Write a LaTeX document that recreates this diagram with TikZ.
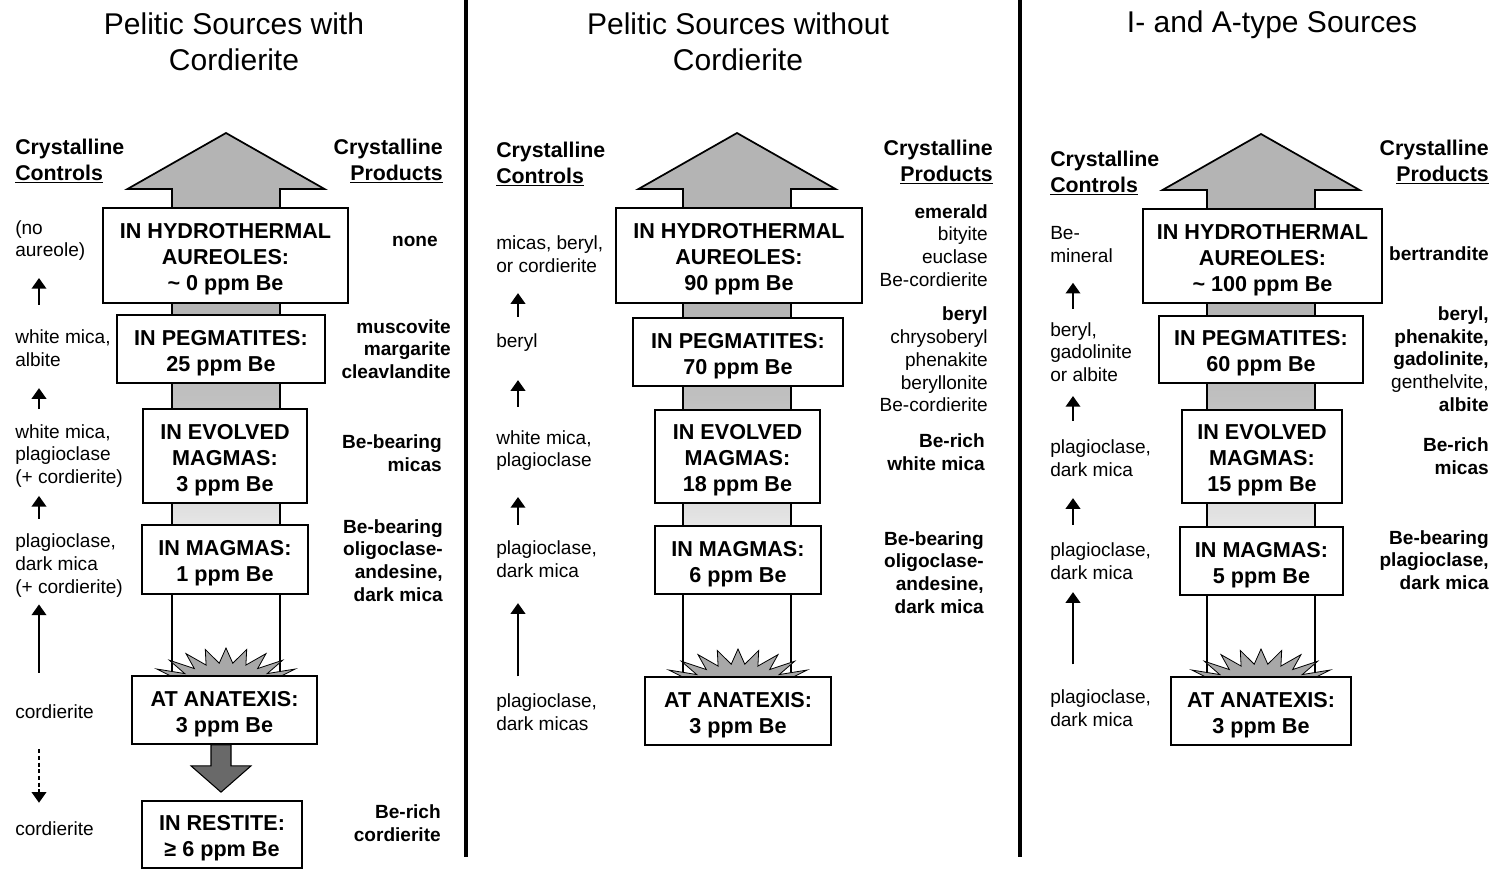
\documentclass[tikz,border=0pt]{standalone}
\usepackage{fontspec}
\setmainfont{Liberation Sans}
\usetikzlibrary{arrows.meta,calc}

\definecolor{arrowgray}{RGB}{180,180,180}
\definecolor{midgray}{RGB}{192,192,192}
\definecolor{fadegray}{RGB}{226,226,226}
\definecolor{burstgray}{RGB}{168,168,168}
\definecolor{restgray}{RGB}{105,105,105}

% shaft: gray at the head, fading to white towards anatexis
\pgfdeclareverticalshading{shaftfade}{100bp}{color(0bp)=(white); color(36bp)=(white); color(42bp)=(fadegray); color(52bp)=(midgray); color(58bp)=(arrowgray); color(100bp)=(arrowgray)}

\newcommand{\titlefont}{\fontsize{22.5pt}{27pt}\selectfont}
\newcommand{\headfont}{\fontsize{16pt}{19.5pt}\selectfont\bfseries}
\newcommand{\stagefont}{\fontsize{16.2pt}{19.5pt}\selectfont\bfseries}
\newcommand{\notefont}{\fontsize{14.3pt}{17.1pt}\selectfont}
\newcommand{\stagetop}{\rule{0pt}{17pt}}% pushes the box text a little down

\tikzset{
  paneltitle/.style={align=center, font=\titlefont, inner sep=0pt},
  headl/.style={anchor=west, align=left, font=\headfont, inner sep=0pt},
  headr/.style={anchor=east, align=right, font=\headfont, inner sep=0pt},
  stage/.style 2 args={draw, line width=1.3pt, fill=white, align=center, font=\stagefont,
    inner sep=0pt, minimum width=#1*0.75pt, minimum height=#2*0.75pt},
  ctrl/.style={anchor=west, align=left, font=\notefont, inner sep=0pt},
  prod/.style={anchor=east, align=right, font=\notefont\bfseries, inner sep=0pt},
  prodlight/.style={prod, font=\notefont},
  uparr/.style={line width=1.2pt, -{Triangle[width=11pt,length=8pt]}},
  downarr/.style={uparr, dash pattern=on 3pt off 2pt},
  restarrow/.style={fill=restgray, draw, line width=0.8pt},
  divider/.style={line width=3pt},
  pics/risearrow/.style={code={
    \shadedraw[shading=shaftfade, line width=1.3pt] (-54,577) -- (-54,56) -- (-98.5,56) -- (0,0)
      -- (98.5,56) -- (54,56) -- (54,577) -- cycle;
  }},
  pics/burst/.style={code={
    \filldraw[fill=burstgray, line width=0.6pt] (0:80 and 42)
      \foreach \a in {7.5,22.5,...,352.5} { -- (\a:52 and 27) -- ({\a+7.5}:80 and 42) } -- cycle;
  }},
}

\begin{document}
\begin{tikzpicture}[x=0.75pt,y=0.75pt,yscale=-1,xscale=1]
\useasboundingbox (0,0) rectangle (1500,870);

% panel dividers
\draw[divider] (466,0) -- (466,857);
\draw[divider] (1020,0) -- (1020,857);

% Titles
\node[paneltitle] (t1) at (234,42) {Pelitic Sources with\\Cordierite};
\node[paneltitle] (t2) at (738,42) {Pelitic Sources without\\Cordierite};
\node[paneltitle] (t3) at (1272,25) {I- and A-type Sources};

% big arrows and anatexis bursts
\pic[transform shape] at (226,133) {risearrow};
\pic[transform shape] at (737,133) {risearrow};
\pic[transform shape] at (1261,134) {risearrow};
\pic[transform shape] at (226,690) {burst};
\pic[transform shape] at (738,691) {burst};
\pic[transform shape] at (1261,691) {burst};

%%%%%%%% Pelitic Sources with Cordierite
\node[stage={245}{95}] (a1) at (225.5,255.5) {\stagetop IN HYDROTHERMAL\\AUREOLES:\\\textasciitilde{} 0 ppm Be};
\node[stage={208}{68}] (a2) at (221,349) {\stagetop IN PEGMATITES:\\25 ppm Be};
\node[stage={164}{94}] (a3) at (225,456) {\stagetop IN EVOLVED\\MAGMAS:\\3 ppm Be};
\node[stage={166}{69}] (a4) at (225,559.5) {\stagetop IN MAGMAS:\\1 ppm Be};
\node[stage={185}{68}] (a5) at (224.5,710) {\stagetop AT ANATEXIS:\\3 ppm Be};
\node[stage={160}{67}] (a6) at (222,834.5) {\stagetop IN RESTITE:\\≥ 6 ppm Be};

% into the restite
\filldraw[restarrow] ($(a5.south)+(-13.5,0)$) -- ($(a5.south)+(-13.5,21)$) -- ($(a5.south)+(-33.5,21)$)
  -- ($(a6.north)+(-1,-8)$) -- ($(a5.south)+(26.5,21)$) -- ($(a5.south)+(6.5,21)$) -- ($(a5.south)+(6.5,0)$) -- cycle;

\node[headl] (h1) at (15,161) {Crystalline\\\underline{Controls}};
\node[ctrl] (c1) at (15,240.5) {(no\\aureole)};
\node[ctrl] (c2) at (15,348.5) {white mica,\\albite};
\node[ctrl] (c3) at (15,456) {white mica,\\plagioclase\\(+ cordierite)};
\node[ctrl] (c4) at (15,565.5) {plagioclase,\\dark mica\\(+ cordierite)};
\node[ctrl] (c5) at (15,712) {cordierite};
\node[ctrl] (c6) at (15,829) {cordierite};

\draw[uparr] ($(c2.north west)+(24,-25)$) -- ($(c1.south west)+(24,17)$);
\draw[uparr] ($(c3.north west)+(24,-15)$) -- ($(c2.south west)+(24,21)$);
\draw[uparr] ($(c4.north west)+(24,-15)$) -- ($(c3.south west)+(24,8)$);
\draw[uparr] ($(c5.north west)+(24,-32)$) -- ($(c4.south west)+(24,7)$);
\draw[downarr] ($(c5.south west)+(24,30)$) -- ($(c6.north west)+(24,-19)$);

\node[headr] (h2) at (443,161) {Crystalline\\\underline{Products}};
\node[prod] (p1) at (438,241) {none};
\node[prod] (p2) at (451,349) {muscovite\\margarite\\cleavlandite};
\node[prod] (p3) at (442,453) {Be-bearing\\micas};
\node[prod] (p4) at (443,560.5) {Be-bearing\\oligoclase-\\andesine,\\dark mica};
\node[prod] (p5) at (441,823.5) {Be-rich\\cordierite};

%%%%%%%% Pelitic Sources without Cordierite
\node[stage={246}{95}] (b1) at (739,255.5) {\stagetop IN HYDROTHERMAL\\AUREOLES:\\90 ppm Be};
\node[stage={210}{68}] (b2) at (738,352) {\stagetop IN PEGMATITES:\\70 ppm Be};
\node[stage={165}{93}] (b3) at (737.5,456.5) {\stagetop IN EVOLVED\\MAGMAS:\\18 ppm Be};
\node[stage={166}{68}] (b4) at (738,560) {\stagetop IN MAGMAS:\\6 ppm Be};
\node[stage={186}{68}] (b5) at (738,711) {\stagetop AT ANATEXIS:\\3 ppm Be};

\node[headl] (h3) at (496,164) {Crystalline\\\underline{Controls}};
\node[ctrl] (d1) at (496,254.5) {micas, beryl,\\or cordierite};
\node[ctrl] (d2) at (496,343) {beryl};
\node[ctrl] (d3) at (496,450.5) {white mica,\\plagioclase};
\node[ctrl] (d4) at (496,559.5) {plagioclase,\\dark mica};
\node[ctrl] (d5) at (496,712) {plagioclase,\\dark micas};

\draw[uparr] ($(d2.north west)+(22,-17)$) -- ($(d1.south west)+(22,20)$);
\draw[uparr] ($(d3.north west)+(22,-23)$) -- ($(d2.south west)+(22,28)$);
\draw[uparr] ($(d4.north west)+(22,-16)$) -- ($(d3.south west)+(22,26)$);
\draw[uparr] ($(d5.north west)+(22,-17)$) -- ($(d4.south west)+(22,25)$);

\node[headr] (h4) at (993,162) {Crystalline\\\underline{Products}};
\node[prodlight] (q1) at (988,245.5) {\textbf{emerald}\\bityite\\euclase\\Be-cordierite};
\node[prodlight] (q2) at (988,359.5) {\textbf{beryl}\\chrysoberyl\\phenakite\\beryllonite\\Be-cordierite};
\node[prod] (q3) at (985,452.5) {Be-rich\\white mica};
\node[prod] (q4) at (984,572.5) {Be-bearing\\oligoclase-\\andesine,\\dark mica};

%%%%%%%% I- and A-type Sources
\node[stage={239}{94}] (g1) at (1262.5,256) {\stagetop IN HYDROTHERMAL\\AUREOLES:\\\textasciitilde{} 100 ppm Be};
\node[stage={204}{67}] (g2) at (1261,349.5) {\stagetop IN PEGMATITES:\\60 ppm Be};
\node[stage={160}{93}] (g3) at (1262,456.5) {\stagetop IN EVOLVED\\MAGMAS:\\15 ppm Be};
\node[stage={163}{68}] (g4) at (1261.5,561) {\stagetop IN MAGMAS:\\5 ppm Be};
\node[stage={180}{68}] (g5) at (1261,711) {\stagetop AT ANATEXIS:\\3 ppm Be};

\node[headl] (h5) at (1050,173) {Crystalline\\\underline{Controls}};
\node[ctrl] (e1) at (1050,244.5) {Be-\\mineral};
\node[ctrl] (e2) at (1050,352) {beryl,\\gadolinite\\or albite};
\node[ctrl] (e3) at (1050,458.5) {plagioclase,\\dark mica};
\node[ctrl] (e4) at (1050,561.5) {plagioclase,\\dark mica};
\node[ctrl] (e5) at (1050,708) {plagioclase,\\dark mica};

\draw[uparr] ($(e2.north west)+(23,-13)$) -- ($(e1.south west)+(23,20)$);
\draw[uparr] ($(e3.north west)+(23,-19)$) -- ($(e2.south west)+(23,14)$);
\draw[uparr] ($(e4.north west)+(23,-18)$) -- ($(e3.south west)+(23,21)$);
\draw[uparr] ($(e5.north west)+(23,-25)$) -- ($(e4.south west)+(23,12)$);

\node[headr] (h6) at (1489,162) {Crystalline\\\underline{Products}};
\node[prod] (r1) at (1489,254) {bertrandite};
\node[prod] (r2) at (1489,359) {beryl,\\phenakite,\\gadolinite,\\\mdseries genthelvite,\\albite};
\node[prod] (r3) at (1489,456.5) {Be-rich\\micas};
\node[prod] (r4) at (1489,560) {Be-bearing\\plagioclase,\\dark mica};

\end{tikzpicture}
\end{document}
